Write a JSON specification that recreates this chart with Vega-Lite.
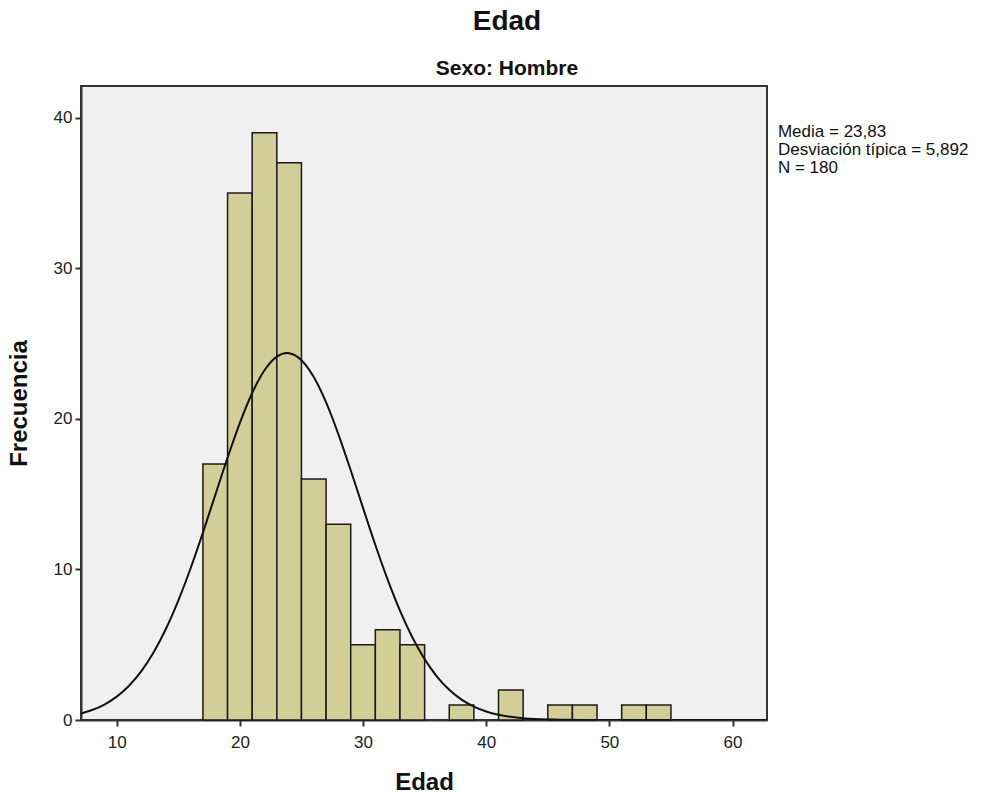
{
  "$schema": "https://vega.github.io/schema/vega-lite/v6.json",
  "width": 686,
  "height": 634,
  "autosize": "none",
  "padding": {"left": 81, "top": 86, "right": 217, "bottom": 76},
  "background": "white",
  "config": {
    "font": "Liberation Sans",
    "view": {"fill": "#F0F0F0", "stroke": "#333333", "strokeWidth": 2},
    "axis": {
      "grid": false,
      "domainColor": "#333333",
      "domainWidth": 2,
      "tickColor": "#333333",
      "tickWidth": 2,
      "tickSize": 6,
      "labelFont": "Liberation Sans",
      "labelFontSize": 17,
      "labelColor": "#222222",
      "titleFont": "Liberation Sans",
      "titleFontSize": 24,
      "titleFontWeight": "bold",
      "titleColor": "#111111"
    }
  },
  "title": {
    "text": "Edad",
    "subtitle": "Sexo: Hombre",
    "anchor": "middle",
    "frame": "group",
    "dx": 83,
    "offset": 7,
    "font": "Liberation Sans",
    "fontSize": 28,
    "fontWeight": "bold",
    "color": "#111111",
    "subtitleFont": "Liberation Sans",
    "subtitleFontSize": 21,
    "subtitleFontWeight": "bold",
    "subtitleColor": "#111111",
    "subtitlePadding": 22
  },
  "datasets": {
    "bins": [
      {"start": 17, "end": 19, "count": 17},
      {"start": 19, "end": 21, "count": 35},
      {"start": 21, "end": 23, "count": 39},
      {"start": 23, "end": 25, "count": 37},
      {"start": 25, "end": 27, "count": 16},
      {"start": 27, "end": 29, "count": 13},
      {"start": 29, "end": 31, "count": 5},
      {"start": 31, "end": 33, "count": 6},
      {"start": 33, "end": 35, "count": 5},
      {"start": 37, "end": 39, "count": 1},
      {"start": 41, "end": 43, "count": 2},
      {"start": 45, "end": 47, "count": 1},
      {"start": 47, "end": 49, "count": 1},
      {"start": 51, "end": 53, "count": 1},
      {"start": 53, "end": 55, "count": 1}
    ],
    "curve": [
      {"x": 7, "y": 0.412}, {"x": 8, "y": 0.660}, {"x": 9, "y": 1.026}, {"x": 10, "y": 1.550},
      {"x": 11, "y": 2.275}, {"x": 12, "y": 3.246}, {"x": 13, "y": 4.501}, {"x": 14, "y": 6.059},
      {"x": 15, "y": 7.928}, {"x": 16, "y": 10.077}, {"x": 17, "y": 12.446}, {"x": 18, "y": 14.936},
      {"x": 19, "y": 17.415}, {"x": 20, "y": 19.730}, {"x": 21, "y": 21.716}, {"x": 22, "y": 23.222},
      {"x": 23, "y": 24.129}, {"x": 23.83, "y": 24.37}, {"x": 24, "y": 24.36}, {"x": 25, "y": 23.894},
      {"x": 26, "y": 22.771}, {"x": 27, "y": 21.087}, {"x": 28, "y": 18.972}, {"x": 29, "y": 16.584},
      {"x": 30, "y": 14.083}, {"x": 31, "y": 11.622}, {"x": 32, "y": 9.319}, {"x": 33, "y": 7.260},
      {"x": 34, "y": 5.493}, {"x": 35, "y": 4.041}, {"x": 36, "y": 2.888}, {"x": 37, "y": 2.004},
      {"x": 38, "y": 1.352}, {"x": 39, "y": 0.886}, {"x": 40, "y": 0.564}, {"x": 41, "y": 0.349},
      {"x": 42, "y": 0.210}, {"x": 43, "y": 0.122}, {"x": 44, "y": 0.070}, {"x": 45, "y": 0.038},
      {"x": 46, "y": 0.021}, {"x": 48, "y": 0.005}, {"x": 50, "y": 0.001}, {"x": 55, "y": 0},
      {"x": 63, "y": 0}
    ],
    "stats": [
      {"label": ["Media = 23,83", "Desviación típica = 5,892", "N = 180"], "sx": 63.69, "sy": 39.6}
    ]
  },
  "layer": [
    {
      "data": {"name": "bins"},
      "mark": {"type": "bar", "orient": "vertical", "fill": "#D3CE98", "stroke": "#1a1a1a", "strokeWidth": 1.5},
      "encoding": {
        "x": {"field": "start", "type": "quantitative", "scale": {"domain": [7.1, 62.8], "nice": false, "zero": false, "padding": 0},
              "axis": {"title": "Edad", "values": [10, 20, 30, 40, 50, 60], "titlePadding": 20, "labelPadding": 8}},
        "x2": {"field": "end"},
        "y": {"field": "count", "type": "quantitative", "scale": {"domain": [0, 42.1], "nice": false, "padding": 0},
              "axis": {"title": "Frecuencia", "values": [0, 10, 20, 30, 40], "titlePadding": 22, "labelPadding": 3}},
        "y2": {"datum": 0}
      }
    },
    {
      "data": {"name": "curve"},
      "mark": {"type": "line", "color": "#111111", "strokeWidth": 2, "interpolate": "monotone", "clip": true},
      "encoding": {
        "x": {"field": "x", "type": "quantitative"},
        "y": {"field": "y", "type": "quantitative"}
      }
    },
    {
      "data": {"name": "stats"},
      "mark": {"type": "text", "align": "left", "baseline": "top", "fontSize": 17, "lineHeight": 18, "font": "Liberation Sans", "color": "#111111", "clip": false},
      "encoding": {
        "x": {"field": "sx", "type": "quantitative"},
        "y": {"field": "sy", "type": "quantitative"},
        "text": {"field": "label"}
      }
    }
  ]
}
